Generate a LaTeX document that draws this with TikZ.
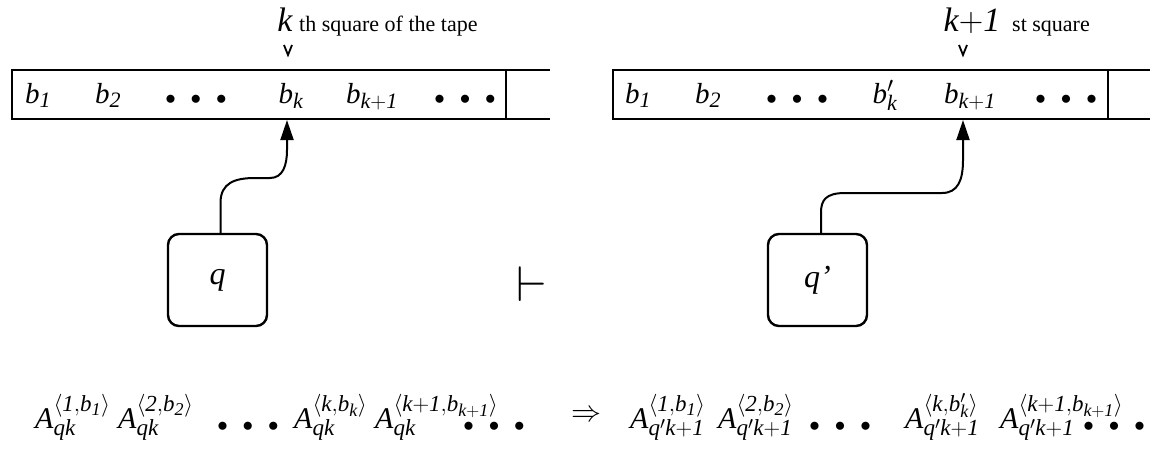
\RequirePackage{fix-cm}
\documentclass[tikz,border=0pt]{standalone}
\usepackage{fontspec}
\setmainfont{Liberation Serif}
\usetikzlibrary{arrows.meta}
\DeclareMathSizes{29}{29}{22}{17}
\DeclareMathSizes{30}{30}{23}{18}
\tikzset{
  tape/.style={line width=2.4pt},
  cell/.style={anchor=base, inner sep=0pt, font=\fontsize{29}{32}\selectfont},
  dotsn/.style={anchor=base, inner sep=0pt, font=\fontsize{21}{24}\selectfont},
  form/.style={anchor=base west, inner sep=0pt, font=\fontsize{30}{34}\selectfont},
  statebox/.style={draw, line width=2.4pt, rounded corners=11pt, minimum width=99pt, minimum height=92pt, inner sep=0pt, font=\fontsize{32}{36}\selectfont},
  head/.style={line width=2pt, -{Triangle[length=20pt,width=13pt]}},
  vmark/.style={line width=1.8pt},
}
\newcommand\bdots{$\bullet$\hspace{15pt}$\bullet$\hspace{15pt}$\bullet$}
\begin{document}
\begin{tikzpicture}[x=1pt,y=-1pt]
\useasboundingbox (0,0) rectangle (1150,453);
% ---- left tape
\draw[tape] (550,70) -- (12,70) -- (12,119) -- (550,119);
\draw[tape] (506,70) -- (506,119);
\node[cell] (l1) at (38,103) {$\mathit{b_1}$};
\node[cell] (l2) at (108,103) {$\mathit{b_2}$};
\node[dotsn] (ld1) at (196,104) {\bdots};
\node[cell] (lk) at (291,103) {$\mathit{b_k}$};
\node[cell] (lk1) at (372,103) {$\mathit{b_{k+1}}$};
\node[dotsn] (ld2) at (465,104) {\bdots};
% ---- right tape
\draw[tape] (1150,70) -- (613,70) -- (613,119) -- (1150,119);
\draw[tape] (1108,70) -- (1108,119);
\node[cell] (r1) at (638,103) {$\mathit{b_1}$};
\node[cell] (r2) at (708,103) {$\mathit{b_2}$};
\node[dotsn] (rd1) at (797,104) {\bdots};
\node[cell] (rk) at (885,103) {$\mathit{b'_k}$};
\node[cell] (rk1) at (970,103) {$\mathit{b_{k+1}}$};
\node[dotsn] (rd2) at (1066,104) {\bdots};
% ---- top labels
\node[anchor=base, inner sep=0pt, font=\fontsize{34}{38}\selectfont\itshape] (kl) at (285,31) {k};
\node[anchor=base west, inner sep=0pt, font=\fontsize{22}{26}\selectfont] (kt) at (299,31) {th square of the tape};
\node[anchor=base, inner sep=0pt, font=\fontsize{34}{38}\selectfont] (k1l) at (972,31) {$\mathit{k{+}1}$};
\node[anchor=base west, inner sep=0pt, font=\fontsize{22}{26}\selectfont] (k1t) at (1012,31) {st square};
\draw[vmark] (284,45) -- (288,55) -- (292,45);
\draw[vmark] (959,45) -- (963,55) -- (967,45);
% ---- state boxes
\node[statebox] (q) at (217.5,280) {\itshape q};
\node[statebox] (qp) at (817.5,280) {\itshape q’};
\coordinate (tipL) at (287,120);
\coordinate (tipR) at (963,120);
\draw[head] ([xshift=3pt]q.north) -- ++(0,-30) .. controls +(0,-20) and (235,178) .. (255,178) -- (270,178) .. controls (283,178) and (287,165) .. (287,150) -- (tipL);
\draw[head] ([xshift=3.5pt]qp.north) -- ++(0,-20) .. controls +(0,-12) and (825,193) .. (845,193) -- (942,193) .. controls (958,193) and (963,180) .. (963,160) -- (tipR);
% ---- turnstile
\node[inner sep=0pt, font=\fontsize{50}{54}\selectfont] (ts) at (532,284) {$\vdash$};
% ---- bottom formulas
\node[form] (f1) at (35,428) {$\mathit{A^{\langle 1,b_1\rangle}_{qk}}$};
\node[form] (f2) at (118,428) {$\mathit{A^{\langle 2,b_2\rangle}_{qk}}$};
\node[dotsn] (fd1) at (248,431) {\bdots};
\node[form] (f3) at (294,428) {$\mathit{A^{\langle k,b_k\rangle}_{qk}}$};
\node[form] (f4) at (375,428) {$\mathit{A^{\langle k+1,b_{k+1}\rangle}_{qk}}$};
\node[dotsn] (fd2) at (494,431) {\bdots};
\node[inner sep=0pt, font=\fontsize{30}{34}\selectfont] (imp) at (586,416) {$\Rightarrow$};
\node[form] (g1) at (630,428) {$\mathit{A^{\langle 1,b_1\rangle}_{q'k+1}}$};
\node[form] (g2) at (718,428) {$\mathit{A^{\langle 2,b_2\rangle}_{q'k+1}}$};
\node[dotsn] (gd1) at (840,431) {\bdots};
\node[form] (g3) at (905,428) {$\mathit{A^{\langle k,b'_k\rangle}_{q'k+1}}$};
\node[form] (g4) at (1000,428) {$\mathit{A^{\langle k+1,b_{k+1}\rangle}_{q'k+1}}$};
\node[dotsn] (gd2) at (1114,431) {\bdots};
\end{tikzpicture}
\end{document}
